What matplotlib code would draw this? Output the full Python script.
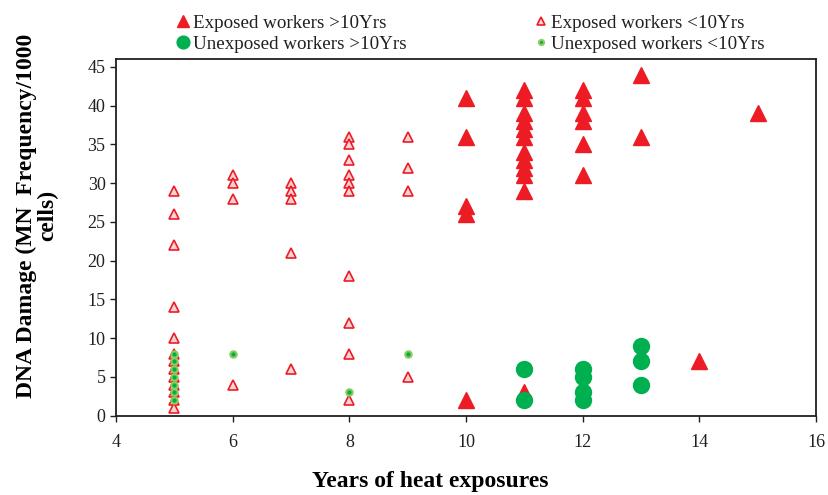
import numpy as np
import matplotlib.pyplot as plt

plt.rcParams['font.family'] = ['Liberation Serif', 'DejaVu Serif']
plt.rcParams['text.color'] = '#231f20'

# Exposed workers <10 Yrs (hollow triangles)
exp_lt_x = [5]*13 + [6]*4 + [7]*5 + [8]*10 + [9]*4
exp_lt_y = [29, 26, 22, 14, 10, 8, 7, 6, 5, 4, 3, 2, 1,
            31, 30, 28, 4,
            30, 29, 28, 21, 6,
            36, 35, 33, 31, 30, 29, 18, 12, 8, 2,
            36, 32, 29, 5]

# Unexposed workers <10 Yrs (small dots)
unexp_lt_x = [5]*7 + [6, 8, 9]
unexp_lt_y = [8, 7, 6, 5, 4, 3, 2, 8, 3, 8]

# Exposed workers >10 Yrs (filled triangles)
exp_gt_x = [10]*5 + [11]*12 + [12]*6 + [13]*2 + [14, 15]
exp_gt_y = [41, 36, 27, 26, 2,
            42, 41, 39, 38, 37, 36, 34, 33, 32, 31, 29, 3,
            42, 41, 39, 38, 35, 31,
            44, 36,
            7, 39]

# Unexposed workers >10 Yrs (big circles)
unexp_gt_x = [11, 11, 12, 12, 12, 12, 13, 13, 13]
unexp_gt_y = [6, 2, 6, 5, 3, 2, 9, 7, 4]

red = '#ED1C24'
green = '#00B050'
dark = '#231f20'

fig = plt.figure(figsize=(8.29, 4.95), dpi=100)
ax = fig.add_axes([0.1399, 0.1606, 0.8444, 0.7202])

h2, = ax.plot(exp_lt_x, exp_lt_y, '^', ms=6.8, mfc='#F7D3D5', mec=red, mew=1.2, ls='none')
h4, = ax.plot(unexp_lt_x, unexp_lt_y, 'o', ms=4.6, mfc=green, mec='#8DCB5A', mew=1.5, ls='none')
h1, = ax.plot(exp_gt_x, exp_gt_y, '^', ms=11.3, color=red, ls='none')
h3, = ax.plot(unexp_gt_x, unexp_gt_y, 'o', ms=11.5, color=green, ls='none')

ax.set_xlim(4, 16)
ax.set_ylim(0, 46)
ax.set_xticks(np.arange(4, 17, 2))
ax.set_yticks(np.arange(0, 46, 5))
ax.tick_params(labelsize=13, direction='out', length=4, width=1, colors=dark)
ax.tick_params(axis='x', pad=9)
for s in ax.spines.values():
    s.set_color(dark)
    s.set_linewidth(1.3)

ax.set_xlabel('Years of heat exposures', fontsize=17, fontweight='bold')
ax.xaxis.set_label_coords(0.4486, -0.156)
ax.set_ylabel('DNA Damage (MN  Frequency/1000\ncells)', fontsize=17,
              fontweight='bold', linespacing=1.0)
ax.yaxis.set_label_coords(-0.083, 0.56)

fig.legend([h1, h3, h2, h4],
           ['Exposed workers >10Yrs', 'Unexposed workers >10Yrs',
            'Exposed workers <10Yrs', 'Unexposed workers <10Yrs'],
           ncol=2, loc='upper left', bbox_to_anchor=(0.2004, 0.99),
           frameon=False, fontsize=13.7, borderpad=0, handletextpad=0.1,
           handlelength=0.8, columnspacing=6.7, labelspacing=0.2,
           markerscale=0.8)

plt.savefig('out.png', dpi=100)
